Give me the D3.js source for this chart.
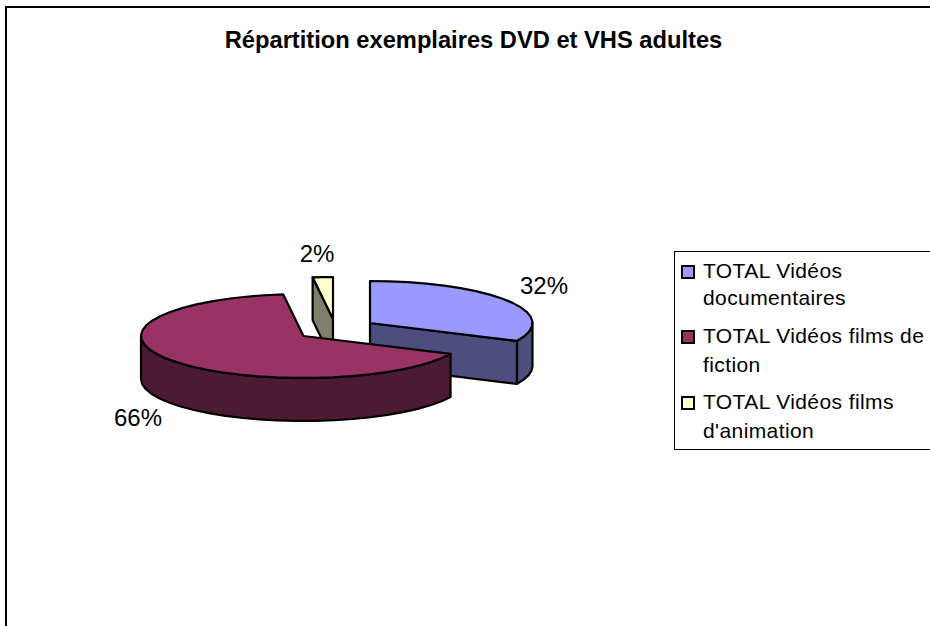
<!DOCTYPE html>
<html>
<head>
<meta charset="utf-8">
<style>
  body { margin: 0; background: #fff; }
  svg { display: block; font-family: "Liberation Sans", Arial, sans-serif; }
</style>
<script src="https://cdn.jsdelivr.net/npm/d3@7"></script>
</head>
<body>
<svg id="chart" width="930" height="626"></svg>
<script>
const chartTitle = 'Répartition exemplaires DVD et VHS adultes';
const categories = ['TOTAL Vidéos documentaires', 'TOTAL Vidéos films de fiction', "TOTAL Vidéos films d'animation"];
const legendLines = [['TOTAL Vidéos', 'documentaires'], ['TOTAL Vidéos films de', 'fiction'], ['TOTAL Vidéos films', "d'animation"]];
const shares = [32, 66, 2];
const topColors = ['#9999ff', '#993366', '#ffffcc'];
const sideColors = ['#4d4d80', '#4d1a33', '#80806a'];

// layout of the exploded slices, same order as categories
const apexes = [[370, 323], [303.5, 336], [333, 319]];
const labelPos = [[544, 294], [138, 426], [317, 262]];
const legendRows = [[278, 305], [343, 372], [409, 438]];
const rx = 162.5, ry = 42, depth = 43;

const svg = d3.select('#chart');

// window frame, runs off the right and bottom of the picture
svg.append('path')
  .attr('d', 'M6,640V7H940')
  .attr('fill', 'none')
  .attr('stroke', '#000')
  .attr('stroke-width', 2);

svg.append('text')
  .attr('x', 473.5)
  .attr('y', 48)
  .attr('text-anchor', 'middle')
  .style('font-size', '23.7px')
  .style('font-weight', 'bold')
  .text(chartTitle);

const pie = d3.pie().value(d => d).sort(null);
const arcs = pie(shares);

const xScale = d3.scaleLinear().domain([-1, 1]).range([-rx, rx]);
const yScale = d3.scaleLinear().domain([-1, 1]).range([ry, -ry]);

// point on the tilted rim of slice i, dz pushes it down the wall
const rim = (i, a, dz = 0) => [
  apexes[i][0] + xScale(Math.sin(a)),
  apexes[i][1] + yScale(Math.cos(a)) + dz
];
const apex = (i, dz = 0) => [apexes[i][0], apexes[i][1] + dz];

const samples = (a0, a1) => {
  const n = Math.max(1, Math.ceil((a1 - a0) / (Math.PI / 26)));
  return d3.range(n + 1).map(k => a0 + (a1 - a0) * k / n);
};

const polygon = d3.line().curve(d3.curveLinearClosed);
const face = (pts, fill) => svg.append('path')
  .attr('d', polygon(pts))
  .attr('fill', fill)
  .attr('stroke', '#000')
  .attr('stroke-width', 2.2)
  .attr('stroke-linejoin', 'round');

const wall = (i, a0, a1) => {
  const as = samples(a0, a1);
  face(as.map(a => rim(i, a)).concat(as.slice().reverse().map(a => rim(i, a, depth))), sideColors[i]);
};
const topFace = i => {
  const d = arcs[i];
  face([apex(i)].concat(samples(d.startAngle, d.endAngle).map(a => rim(i, a))), topColors[i]);
};
const cutFace = (i, a) => face([apex(i), rim(i, a), rim(i, a, depth), apex(i, depth)], sideColors[i]);

// back to front: animation, documentaires, fiction
cutFace(2, arcs[2].startAngle);
topFace(2);

cutFace(0, arcs[0].endAngle);
wall(0, Math.PI / 2, arcs[0].endAngle);
topFace(0);

wall(1, arcs[1].startAngle, Math.PI * 1.5);
topFace(1);

svg.selectAll('.pct')
  .data(shares)
  .enter().append('text')
  .attr('class', 'pct')
  .attr('x', (d, i) => labelPos[i][0])
  .attr('y', (d, i) => labelPos[i][1])
  .attr('text-anchor', 'middle')
  .style('font-size', '24px')
  .text(d => `${d}%`);

// legend
svg.append('rect')
  .attr('x', 674.5)
  .attr('y', 251.5)
  .attr('width', 270)
  .attr('height', 198)
  .attr('fill', '#fff')
  .attr('stroke', '#000');

const items = svg.selectAll('.legend-item')
  .data(categories)
  .enter().append('g')
  .attr('class', 'legend-item');

items.append('rect')
  .attr('x', 682)
  .attr('y', (d, i) => legendRows[i][0] - 12)
  .attr('width', 12)
  .attr('height', 12)
  .attr('fill', (d, i) => topColors[i])
  .attr('stroke', '#000')
  .attr('stroke-width', 2);

items.each(function(d, i) {
  d3.select(this).selectAll('text')
    .data(legendLines[i])
    .enter().append('text')
    .attr('x', 703)
    .attr('y', (t, j) => legendRows[i][j])
    .style('font-size', '21px')
    .style('letter-spacing', '0.4px')
    .text(t => t);
});
</script>
</body>
</html>
